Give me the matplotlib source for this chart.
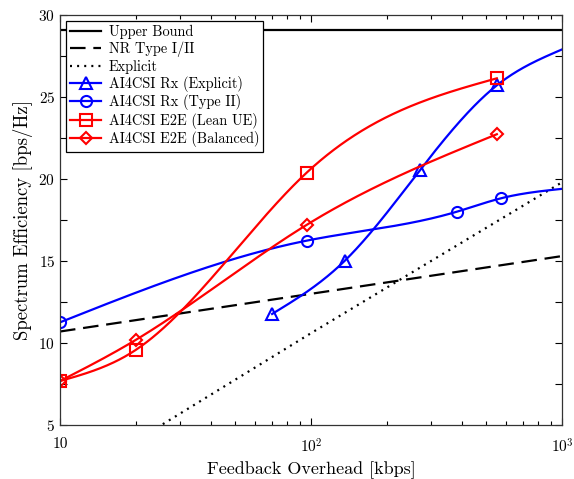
import numpy as np
import matplotlib
matplotlib.use('Agg')
import matplotlib.pyplot as plt
from matplotlib.ticker import FixedLocator, MultipleLocator, LogLocator, NullFormatter

plt.rcParams['font.family'] = ['cmr10', 'DejaVu Serif']
plt.rcParams['mathtext.fontset'] = 'cm'
plt.rcParams['axes.formatter.use_mathtext'] = True

# data (x in kbps, y in bps/Hz)
upper_bound = 29.1
nr_x = [10, 100, 1000]
nr_y = [10.7, 13.0, 15.3]
explicit_x = [10, 100, 1000]
explicit_y = [1.2, 10.6, 19.8]

rx_explicit_x = [70, 136, 272, 552]
rx_explicit_y = [11.77, 15.0, 20.55, 25.73]
rx_type2_x = [10, 96, 380, 570]
rx_type2_y = [11.26, 16.24, 18.0, 18.82]
e2e_lean_x = [10, 20, 96, 550]
e2e_lean_y = [7.68, 9.57, 20.38, 26.14]
e2e_bal_x = [10, 20, 96, 550]
e2e_bal_y = [7.68, 10.18, 17.2, 22.73]

# where the two Rx curves end (no marker there)
rx_explicit_end = (1000, 27.9)
rx_type2_end = (1000, 19.4)


def natural_spline(x, y, xq):
    x = np.asarray(x, float)
    y = np.asarray(y, float)
    n = len(x)
    h = np.diff(x)
    d = np.diff(y) / h
    A = np.zeros((n, n))
    b = np.zeros(n)
    A[0, 0] = A[-1, -1] = 1
    for k in range(1, n - 1):
        A[k, k - 1] = h[k - 1]
        A[k, k] = 2 * (h[k - 1] + h[k])
        A[k, k + 1] = h[k]
        b[k] = 6 * (d[k] - d[k - 1])
    M = np.linalg.solve(A, b)
    i = np.clip(np.searchsorted(x, xq) - 1, 0, n - 2)
    a = x[i + 1] - xq
    c = xq - x[i]
    return (M[i] * a**3 + M[i + 1] * c**3) / (6 * h[i]) \
        + (y[i] / h[i] - M[i] * h[i] / 6) * a + (y[i + 1] / h[i] - M[i + 1] * h[i] / 6) * c


def smooth(x, y, tail=None):
    x = list(x)
    y = list(y)
    if tail:
        x.append(tail[0])
        y.append(tail[1])
    lx = np.log10(x)
    xx = np.linspace(lx[0], lx[-1], 400)
    return 10 ** xx, natural_spline(lx, y, xx)


fig = plt.figure(figsize=(5.74, 4.79), dpi=100)
ax = fig.add_axes([60 / 574, 1 - 425 / 479, 502 / 574, 410 / 479])

lw = 1.6
ax.plot([10, 1000], [upper_bound, upper_bound], 'k-', lw=lw, label='Upper Bound')
ax.plot(nr_x, nr_y, 'k', lw=lw, dashes=(7, 3.5), label='NR Type I/II')
ax.plot(explicit_x, explicit_y, 'k', lw=lw, dashes=(0.9, 2.3), label='Explicit')

series = [
    (rx_explicit_x, rx_explicit_y, 'b', '^', 9, rx_explicit_end, 'AI4CSI Rx (Explicit)'),
    (rx_type2_x, rx_type2_y, 'b', 'o', 8, rx_type2_end, 'AI4CSI Rx (Type II)'),
    (e2e_lean_x, e2e_lean_y, 'r', 's', 8, None, 'AI4CSI E2E (Lean UE)'),
    (e2e_bal_x, e2e_bal_y, 'r', 'D', 6, None, 'AI4CSI E2E (Balanced)'),
]
for x, y, c, m, ms, tail, label in series:
    xs, ys = smooth(x, y, tail)
    ax.plot(xs, ys, color=c, lw=lw)
    ax.plot(x, y, color=c, lw=0, marker=m, ms=ms, mfc='none', mew=1.5)
    # proxy for legend
    ax.plot([], [], color=c, lw=lw, marker=m, ms=ms, mfc='none', mew=1.5, label=label)

ax.set_xscale('log')
ax.set_xlim(10, 1000)
ax.set_ylim(5, 30)
ax.xaxis.set_major_locator(FixedLocator([10, 100, 1000]))
ax.set_xticklabels(['10', '$10^2$', '$10^3$'])
ax.xaxis.set_minor_locator(LogLocator(base=10, subs=np.arange(2, 10)))
ax.xaxis.set_minor_formatter(NullFormatter())
ax.yaxis.set_major_locator(MultipleLocator(5))
ax.yaxis.set_minor_locator(MultipleLocator(2.5))
ax.tick_params(which='both', direction='in', top=True, right=True, labelsize=11, width=0.8)
ax.tick_params(which='major', length=5)
ax.tick_params(which='minor', length=3)
ax.tick_params(axis='x', pad=9)
ax.tick_params(axis='y', which='minor', length=5)
for s in ax.spines.values():
    s.set_linewidth(0.9)
    s.set_color('#333333')

ax.set_xlabel('Feedback Overhead [kbps]', fontsize=13)
ax.set_ylabel('Spectrum Efficiency [bps/Hz]', fontsize=13.5)

leg = ax.legend(loc='upper left', fontsize=10.3, handlelength=2.2, numpoints=1,
                fancybox=False, framealpha=1, edgecolor='k', borderaxespad=0.4,
                labelspacing=0.17, borderpad=0.3, handletextpad=0.5)
leg.get_frame().set_linewidth(0.9)

fig.savefig('out.png', dpi=100)
